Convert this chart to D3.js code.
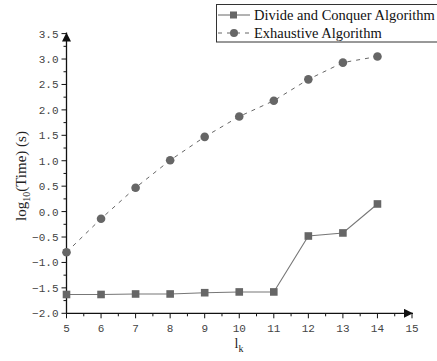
<!DOCTYPE html>
<html>
<head>
<meta charset="utf-8">
<script src="https://cdn.jsdelivr.net/npm/d3@7"></script>
<style>
  body { margin: 0; background: #fff; }
  svg { display: block; }
  .serif { font-family: "Liberation Serif", "DejaVu Serif", serif; }
  .mono { font-family: "Liberation Mono", "DejaVu Sans Mono", monospace; }
</style>
</head>
<body>
<svg width="437" height="361"></svg>
<script>
// chart values
let lk = [5, 6, 7, 8, 9, 10, 11, 12, 13, 14];
let divide_vals = [-1.63, -1.63, -1.62, -1.62, -1.595, -1.58, -1.58, -0.48, -0.42, 0.15];
let exhaust_vals = [-0.8, -0.14, 0.47, 1.01, 1.47, 1.87, 2.18, 2.6, 2.93, 3.05];
let x_ticks = [5, 6, 7, 8, 9, 10, 11, 12, 13, 14, 15];
let y_ticks = [-2.0, -1.5, -1.0, -0.5, 0.0, 0.5, 1.0, 1.5, 2.0, 2.5, 3.0, 3.5];
let legend_names = ["Divide and Conquer Algorithm", "Exhaustive Algorithm"];

let svg = d3.select('svg');
let x = d3.scaleLinear().domain([5, 15]).range([66.5, 412]);
let y = d3.scaleLinear().domain([-2, 3.5]).range([313.3, 33.6]);

let axisColor = '#111';
let markColor = '#666';

// arrowheads
let defs = svg.append('defs');
defs.append('marker').attr('id', 'arr')
    .attr('viewBox', '0 0 10 10').attr('refX', 10).attr('refY', 5)
    .attr('markerWidth', 9).attr('markerHeight', 9).attr('markerUnits', 'userSpaceOnUse')
    .attr('orient', 'auto')
    .append('path').attr('d', 'M0,0 L10,5 L0,10 Z').attr('fill', axisColor);

// minor ticks
let yMinor = d3.range(-2, 3.51, 0.25);
svg.append('g').selectAll('line').data(yMinor).join('line')
    .attr('x1', function (d) { return x(5) - (Math.abs(d * 2 - Math.round(d * 2)) < 1e-6 ? 5 : 3); })
    .attr('x2', x(5))
    .attr('y1', function (d) { return y(d); })
    .attr('y2', function (d) { return y(d); })
    .attr('stroke', axisColor).attr('stroke-width', 1);

let xMinor = d3.range(5, 15.01, 0.5);
svg.append('g').selectAll('line').data(xMinor).join('line')
    .attr('x1', function (d) { return x(d); })
    .attr('x2', function (d) { return x(d); })
    .attr('y1', y(-2))
    .attr('y2', function (d) { return y(-2) + (d % 1 === 0 ? 5 : 3); })
    .attr('stroke', axisColor).attr('stroke-width', 1);

// axis lines with arrows
svg.append('line')
    .attr('x1', x(5)).attr('y1', y(-2)).attr('x2', x(5)).attr('y2', y(3.5) - 1)
    .attr('stroke', axisColor).attr('stroke-width', 1.3).attr('marker-end', 'url(#arr)');
svg.append('line')
    .attr('x1', x(5)).attr('y1', y(-2)).attr('x2', x(15) + 1).attr('y2', y(-2))
    .attr('stroke', axisColor).attr('stroke-width', 1.3).attr('marker-end', 'url(#arr)');

// tick labels
svg.append('g').selectAll('text').data(y_ticks).join('text')
    .attr('class', 'mono')
    .attr('x', x(5) - 8)
    .attr('y', function (d) { return y(d) + 4; })
    .attr('text-anchor', 'end')
    .attr('font-size', 11).attr('fill', '#444')
    .text(function (d) { return d3.format('.1f')(d).replace('-', '\u2212'); });

svg.append('g').selectAll('text').data(x_ticks).join('text')
    .attr('class', 'mono')
    .attr('x', function (d) { return x(d); })
    .attr('y', y(-2) + 19)
    .attr('text-anchor', 'middle')
    .attr('font-size', 11).attr('fill', '#444')
    .text(function (d) { return d; });

// axis titles
let xt = svg.append('text')
    .attr('class', 'serif')
    .attr('x', 239).attr('y', 348)
    .attr('text-anchor', 'middle')
    .attr('font-size', 14).attr('fill', '#222');
xt.append('tspan').text('l');
xt.append('tspan').attr('dy', 4).attr('font-size', 10).text('k');

let yt = svg.append('text')
    .attr('class', 'serif')
    .attr('transform', 'translate(26,' + 176 + ') rotate(-90)')
    .attr('text-anchor', 'middle')
    .attr('font-size', 15).attr('fill', '#222');
yt.append('tspan').text('log');
yt.append('tspan').attr('dy', 4).attr('font-size', 10).text('10');
yt.append('tspan').attr('dy', -4).text('(Time) (s)');

// series
let pts_d = lk.map(function (v, i) { return { x: v, y: divide_vals[i] }; });
let pts_e = lk.map(function (v, i) { return { x: v, y: exhaust_vals[i] }; });
let line = d3.line().x(function (d) { return x(d.x); }).y(function (d) { return y(d.y); });

svg.append('path').datum(pts_e).attr('d', line)
    .attr('fill', 'none').attr('stroke', '#666').attr('stroke-width', 1)
    .attr('stroke-dasharray', '4,5');
svg.append('path').datum(pts_d).attr('d', line)
    .attr('fill', 'none').attr('stroke', '#777').attr('stroke-width', 1.1);

svg.append('g').selectAll('circle').data(pts_e).join('circle')
    .attr('cx', function (d) { return x(d.x); })
    .attr('cy', function (d) { return y(d.y); })
    .attr('r', 4.3).attr('fill', markColor);

svg.append('g').selectAll('rect').data(pts_d).join('rect')
    .attr('x', function (d) { return x(d.x) - 3.8; })
    .attr('y', function (d) { return y(d.y) - 3.8; })
    .attr('width', 7.6).attr('height', 7.6).attr('fill', markColor);

// legend
let lg = svg.append('g');
lg.append('rect').attr('x', 216.5).attr('y', 4.5).attr('width', 225).attr('height', 37.5)
    .attr('fill', '#fff').attr('stroke', '#333').attr('stroke-width', 1);
legend_names.forEach(function (name, i) {
    let cy = 15 + i * 18;
    lg.append('line').attr('x1', 218).attr('x2', 250).attr('y1', cy).attr('y2', cy)
        .attr('stroke', '#666').attr('stroke-width', 1)
        .attr('stroke-dasharray', i === 1 ? '4,5' : null);
    if (i === 0) {
        lg.append('rect').attr('x', 230).attr('y', cy - 3.5).attr('width', 7).attr('height', 7).attr('fill', markColor);
    } else {
        lg.append('circle').attr('cx', 234).attr('cy', cy).attr('r', 4).attr('fill', markColor);
    }
    lg.append('text').attr('class', 'serif').attr('x', 254).attr('y', cy + 5)
        .attr('font-size', 14.5).attr('fill', '#111')
        .text(name);
});
</script>
</body>
</html>
